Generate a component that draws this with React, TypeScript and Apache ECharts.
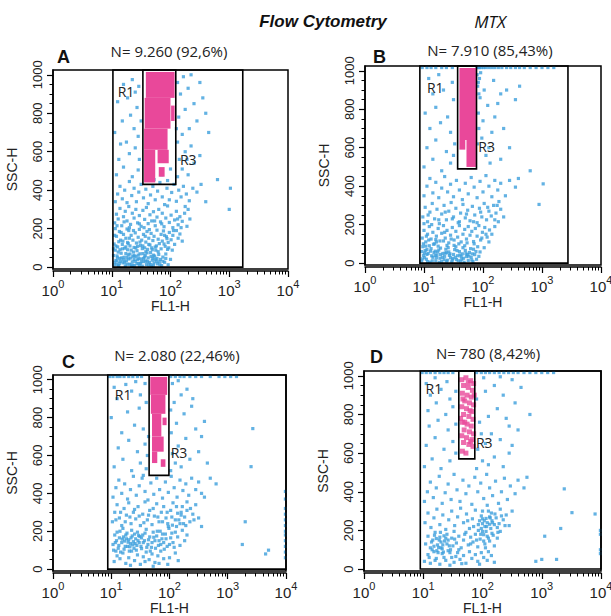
import React, { useEffect, useRef } from "react";
import * as echarts from "echarts";

// ---------- tick values ----------
const decadeTicks = [1, 10, 100, 1000, 10000];
const minorLogTicks = [2, 3, 4, 5, 6, 7, 8, 9, 20, 30, 40, 50, 60, 70, 80, 90, 200, 300, 400, 500, 600, 700, 800, 900, 2000, 3000, 4000, 5000, 6000, 7000, 8000, 9000];
const yMajorTicks = [0, 200, 400, 600, 800, 1000];
const yMinorTicks = [50, 100, 150, 250, 300, 350, 450, 500, 550, 650, 700, 750, 850, 900, 950];

// ---------- headers ----------
const panelLetters = ["A", "B", "C", "D"];
const panelCounts = ["N= 9.260 (92,6%)", "N= 7.910 (85,43%)", "N= 2.080 (22,46%)", "N= 780 (8,42%)"];

// ---------- events: flat pairs [log10(FL1-H), SSC-H] ----------
const blueA = [
  1.04,12, 1.07,35, 1.09,58, 1.12,8, 1.14,44, 1.16,72, 1.19,22, 1.21,51, 1.23,6, 1.25,33, 1.28,64, 1.3,15, 1.32,47, 1.35,27, 1.37,78, 1.39,9, 1.41,55, 1.44,38, 1.46,18, 1.48,69, 1.5,42, 1.52,5, 1.55,29, 1.57,61, 1.59,14, 1.62,48, 1.64,24, 1.66,75, 1.69,36, 1.71,10, 1.73,57, 1.76,30, 1.78,17, 1.8,66, 1.83,40, 1.85,8, 1.87,52, 1.9,25, 1.06,88, 1.18,95, 1.27,90, 1.43,85, 1.61,92, 1.75,88, 1.11,3, 1.34,2, 1.53,70, 1.68,4, 1.92,45, 1.96,12,
  1.05,25, 1.1,48, 1.13,20, 1.2,38, 1.24,70, 1.29,42, 1.33,12, 1.36,56, 1.4,30, 1.45,62, 1.49,20, 1.54,45, 1.58,32, 1.63,10, 1.67,55, 1.72,22, 1.77,45, 1.81,28, 1.03,60, 1.08,15, 1.15,30, 1.26,50, 1.38,40, 1.47,8, 1.6,74, 1.7,46,
  1.03,95, 1.07,110, 1.09,32, 1.11,78, 1.14,90, 1.17,48, 1.19,135, 1.22,25, 1.24,105, 1.26,15, 1.28,122, 1.31,68, 1.33,88, 1.36,8, 1.38,60, 1.41,100, 1.43,18, 1.46,45, 1.48,130, 1.51,28, 1.53,110, 1.56,52, 1.58,80, 1.61,30, 1.63,118, 1.66,14, 1.68,100, 1.71,62, 1.74,40, 1.76,110, 1.79,80, 1.82,12, 1.84,95, 1.87,30, 1.89,120, 1.92,68, 1.94,148, 1.97,100, 2.0,40, 2.03,88,
  1.05,165, 1.09,215, 1.16,180, 1.21,235, 1.3,205, 1.37,190, 1.47,225, 1.55,205, 1.64,195, 1.73,240, 1.85,225, 1.9,165, 2.05,190, 2.12,250, 2.18,205, 2.25,315,
  1.04,120, 1.08,160, 1.1,105, 1.13,185, 1.15,140, 1.18,118, 1.2,170, 1.22,98, 1.24,150, 1.27,128, 1.29,190, 1.31,110, 1.33,165, 1.36,140, 1.38,102, 1.4,178, 1.42,125, 1.45,155, 1.47,196, 1.49,112, 1.51,140, 1.54,170, 1.56,100, 1.58,130, 1.6,185, 1.63,150, 1.65,115, 1.67,175, 1.7,138, 1.72,160, 1.74,104, 1.77,192, 1.79,145, 1.81,122, 1.84,170, 1.86,135, 1.88,188, 1.91,108, 1.93,158, 1.96,128, 1.98,180, 2.01,142, 2.04,165, 2.07,118, 2.1,190, 2.13,150, 2.16,172, 2.2,135, 1.06,200, 1.26,198, 1.52,96, 1.69,90, 1.95,92, 1.12,132, 1.3,150, 1.44,108, 1.57,160,
  1.05,230, 1.08,275, 1.11,250, 1.14,305, 1.17,215, 1.2,262, 1.23,290, 1.26,240, 1.29,315, 1.32,222, 1.35,280, 1.38,255, 1.41,300, 1.44,230, 1.47,268, 1.5,212, 1.53,295, 1.56,248, 1.59,310, 1.62,226, 1.65,272, 1.68,240, 1.71,288, 1.74,215, 1.77,260, 1.8,300, 1.83,235, 1.86,280, 1.89,210, 1.92,255, 1.95,318, 1.98,232, 2.01,270, 2.04,205, 2.07,245, 2.1,290, 2.13,220, 2.16,262, 2.2,238, 2.24,280, 2.28,212, 2.33,250, 2.3,300,
  1.06,340, 1.1,380, 1.14,420, 1.18,355, 1.22,400, 1.26,335, 1.3,445, 1.34,372, 1.38,410, 1.42,340, 1.46,390, 1.5,430, 1.54,360, 1.58,405, 1.62,330, 1.66,375, 1.7,420, 1.74,350, 1.78,395, 1.82,440, 1.86,365, 1.9,325, 1.94,410, 1.98,350, 2.02,388, 2.06,430, 2.1,342, 2.14,400, 2.18,365, 2.22,420, 2.27,380, 2.32,345, 2.38,410, 2.45,390, 2.52,430, 2.8,455, 3.0,300, 3.02,410, 2.6,340,
  1.08,480, 1.2,520, 1.35,470, 1.45,505, 1.12,560, 1.3,590, 1.4,620, 1.47,560, 1.25,650, 1.05,700, 1.38,720, 1.45,680, 1.18,760, 1.32,790, 1.43,830, 1.1,860, 1.27,880, 1.4,910, 1.2,950, 1.35,975, 1.46,940, 1.5,760, 1.15,640,
  2.12,470, 2.2,510, 2.3,480, 2.4,540, 2.15,560, 2.25,600, 2.35,630, 2.5,580, 2.12,650, 2.2,690, 2.32,720, 2.45,760, 2.14,780, 2.25,820, 2.4,850, 2.55,880, 2.17,900, 2.3,930, 2.12,960, 2.22,990, 2.35,1000, 2.5,960, 2.6,800, 2.1,720, 2.28,560, 2.65,700,
  1.72,455, 1.85,480, 1.95,450, 2.0,510,
];

const blueB = [
  0.96,10, 0.99,40, 1.02,65, 1.04,20, 1.07,50, 1.1,5, 1.12,75, 1.15,30, 1.17,55, 1.2,12, 1.22,42, 1.25,68, 1.27,25, 1.3,8, 1.32,50, 1.35,35, 1.37,72, 1.4,15, 1.42,58, 1.45,28, 1.47,6, 1.5,45, 1.52,70, 1.55,18, 1.57,38, 1.6,60, 1.62,10, 1.65,48, 1.67,25, 1.7,66, 1.72,34, 1.75,14, 1.77,55, 1.8,30, 1.83,8, 1.86,44, 1.89,20, 0.98,85, 1.09,90, 1.24,88, 1.39,92, 1.54,85, 1.69,90, 1.84,72, 1.93,35,
  0.97,22, 1.01,52, 1.06,8, 1.13,38, 1.19,62, 1.28,45, 1.34,18, 1.43,40, 1.49,24, 1.58,12, 1.63,34, 1.74,44, 1.81,16, 1.05,70, 1.21,28, 1.38,54,
  0.96,60, 0.99,100, 1.01,28, 1.03,88, 1.05,45, 1.08,120, 1.11,62, 1.14,12, 1.16,98, 1.19,40, 1.21,110, 1.23,58, 1.26,4, 1.28,78, 1.31,30, 1.33,115, 1.36,52, 1.38,10, 1.41,80, 1.44,48, 1.46,125, 1.48,16, 1.51,92, 1.53,30, 1.56,65, 1.59,100, 1.61,42, 1.64,20, 1.66,80, 1.68,4, 1.71,50, 1.73,105, 1.76,36, 1.79,75, 1.82,48, 1.85,100, 1.88,60, 1.91,85, 1.95,58, 1.98,130, 2.02,80, 2.05,150, 2.1,110,
  1.0,205, 1.07,250, 1.13,200, 1.25,225, 1.36,265, 1.48,230, 1.6,215, 1.72,255, 1.84,215, 1.96,265, 2.08,290, 2.2,225, 2.24,300,
  0.97,130, 1.0,170, 1.03,110, 1.06,150, 1.09,190, 1.12,125, 1.15,160, 1.18,100, 1.21,140, 1.24,180, 1.27,115, 1.3,155, 1.33,195, 1.36,130, 1.39,170, 1.42,105, 1.45,145, 1.48,185, 1.51,120, 1.54,165, 1.57,135, 1.6,195, 1.63,110, 1.66,150, 1.69,175, 1.72,125, 1.75,190, 1.78,145, 1.81,165, 1.84,112, 1.87,180, 1.9,140, 1.93,195, 1.96,120, 1.99,160, 2.03,185, 2.07,135, 2.11,172, 2.15,150, 2.2,190, 1.04,140, 1.2,122, 1.35,160,
  0.98,240, 1.02,290, 1.06,215, 1.1,265, 1.14,310, 1.18,230, 1.22,280, 1.26,205, 1.3,255, 1.34,300, 1.38,225, 1.42,270, 1.46,315, 1.5,240, 1.54,285, 1.58,210, 1.62,260, 1.66,305, 1.7,235, 1.74,275, 1.78,220, 1.82,295, 1.86,250, 1.9,210, 1.94,285, 1.98,240, 2.02,310, 2.06,225, 2.1,270, 2.14,245, 2.18,300, 2.22,260, 2.26,215, 2.3,280, 2.35,240, 2.27,320,
  1.0,350, 1.05,400, 1.1,440, 1.15,365, 1.2,420, 1.25,340, 1.3,390, 1.35,450, 1.4,370, 1.45,410, 1.5,345, 1.55,430, 1.6,380, 1.65,330, 1.7,415, 1.75,360, 1.8,445, 1.85,395, 1.9,340, 1.95,425, 2.0,370, 2.05,455, 2.1,400, 2.15,345, 2.2,430, 2.25,380, 2.3,415, 2.38,350, 2.45,430, 2.6,440, 2.8,480, 3.02,412, 2.95,305, 2.55,395,
  1.0,500, 1.15,540, 1.3,480, 1.45,520, 1.05,600, 1.2,640, 1.38,580, 1.5,560, 1.1,700, 1.28,730, 1.45,680, 1.52,620, 1.02,780, 1.2,810, 1.4,760, 1.5,850, 1.15,880, 1.33,900, 1.48,940, 1.08,960, 1.25,980,
  1.91,620, 1.93,700, 1.92,780, 1.95,860, 1.91,920, 1.94,960, 1.96,990, 1.98,650, 2.0,740, 2.02,900, 2.05,560, 2.1,600, 2.15,680, 2.2,760, 2.25,830, 2.3,880, 2.4,900, 2.12,520, 2.3,540, 2.45,600, 2.55,850, 2.62,920, 2.18,950, 2.08,820, 2.35,700, 1.9,980, 1.92,940, 1.93,880,
  0.97,1017, 1.05,1017, 1.12,1017, 1.2,1017, 1.3,1017, 1.38,1017, 1.48,1017, 1.9,1017, 1.92,1017, 1.94,1017, 1.97,1017, 2.01,1017, 2.05,1017, 2.1,1017, 2.15,1017, 2.2,1017, 2.26,1017, 2.32,1017, 2.4,1017, 2.47,1017, 2.55,1017, 2.62,1017, 2.7,1017, 2.8,1017, 2.9,1017, 3.0,1017, 3.1,1017, 3.2,1017,
];

const blueC = [
  1.05,40, 1.1,70, 1.15,55, 1.2,85, 1.25,30, 1.3,60, 1.35,95, 1.4,45, 1.45,75, 1.5,25, 1.55,65, 1.6,90, 1.65,50, 1.7,80, 1.75,35, 1.8,70, 1.85,95, 1.9,55, 1.08,95, 1.33,20, 1.58,40, 1.82,30, 2.0,60, 2.1,85, 1.97,25, 2.15,45, 1.72,15,
  1.04,100, 1.07,140, 1.1,195, 1.13,125, 1.16,90, 1.19,158, 1.22,105, 1.25,180, 1.28,120, 1.31,95, 1.34,165, 1.37,128, 1.4,185, 1.43,100, 1.46,150, 1.49,172, 1.52,108, 1.55,140, 1.58,190, 1.61,115, 1.64,155, 1.67,95, 1.7,140, 1.73,168, 1.76,110, 1.79,200, 1.82,150, 1.85,130, 1.88,185, 1.91,105, 1.94,160, 1.97,240, 2.0,130, 2.04,190, 2.08,115, 2.12,225, 2.16,260, 2.2,285, 2.24,240,
  1.08,260, 1.16,300, 1.24,250, 1.32,275, 1.4,315, 1.48,280, 1.56,245, 1.64,285, 1.72,320, 1.8,275, 1.88,250, 1.96,300, 2.04,275, 2.12,330, 2.2,300, 2.28,230, 2.36,320, 2.42,260,
  1.03,130, 1.06,180, 1.09,150, 1.12,110, 1.15,200, 1.18,140, 1.21,170, 1.24,120, 1.27,190, 1.3,155, 1.33,135, 1.36,175, 1.39,110, 1.42,160, 1.45,195, 1.48,140, 1.51,120, 1.54,180, 1.57,150, 1.6,210, 1.63,130, 1.66,170, 1.69,115, 1.72,195, 1.75,150, 1.78,175, 1.81,125, 1.84,200, 1.87,160, 1.9,140, 1.93,185, 1.96,120, 1.99,215, 2.02,165, 2.06,140, 2.1,195, 2.14,170, 2.18,125, 2.22,205, 2.26,150, 2.3,180, 1.2,215, 1.35,205, 1.44,125, 1.26,160, 1.52,165, 1.38,145, 1.14,165, 1.32,118, 1.47,178, 1.41,135, 1.29,142, 1.23,148,
  1.02,250, 1.06,300, 1.1,340, 1.14,270, 1.18,230, 1.22,320, 1.26,285, 1.3,350, 1.34,240, 1.38,300, 1.42,265, 1.46,330, 1.5,230, 1.54,290, 1.58,355, 1.62,260, 1.66,310, 1.7,235, 1.74,280, 1.78,345, 1.82,250, 1.86,300, 1.9,330, 1.94,270, 1.98,225, 2.02,310, 2.06,350, 2.1,260, 2.14,295, 2.18,240, 2.22,330, 2.26,275, 2.3,310, 2.35,250, 2.4,290, 2.45,340, 2.5,270, 2.3,355, 2.55,225, 2.05,232,
  1.03,380, 1.08,430, 1.13,470, 1.18,400, 1.23,450, 1.28,370, 1.33,420, 1.38,490, 1.43,390, 1.48,440, 1.53,480, 1.58,410, 1.63,365, 1.68,455, 1.73,395, 1.78,480, 1.83,420, 1.88,375, 1.93,460, 1.98,405, 2.03,490, 2.08,430, 2.13,380, 2.18,470, 2.23,415, 2.28,450, 2.33,390, 2.38,480, 2.45,420, 2.5,460, 2.6,380, 2.7,480, 1.55,495, 2.55,400, 2.8,450,
  1.05,540, 1.2,580, 1.35,520, 1.5,560, 1.6,530, 1.12,640, 1.3,680, 1.45,620, 1.58,660, 1.62,600, 1.18,720, 1.4,760, 1.55,740, 1.64,700, 1.0,800, 1.28,830, 1.48,850, 1.6,880, 1.1,900, 1.35,940, 1.5,920, 1.05,960, 1.25,975, 1.58,980, 1.42,990,
  2.02,520, 2.1,560, 2.2,540, 2.35,580, 2.5,620, 2.05,610, 2.15,650, 2.28,690, 2.45,740, 2.6,780, 2.03,720, 2.12,770, 2.25,820, 2.38,860, 2.08,880, 2.2,920, 2.3,950, 2.05,980, 2.15,995, 2.4,900, 2.55,700, 2.02,840, 3.43,742, 3.4,541, 2.65,560,
  0.97,1017, 1.03,1017, 1.1,1017, 1.15,1017, 1.22,1017, 1.3,1017, 1.37,1017, 1.45,1017, 1.52,1017, 2.02,1017, 2.1,1017, 2.18,1017, 2.25,1017, 2.35,1017, 2.45,1017, 2.55,1017, 2.7,1017, 2.85,1017, 2.95,1017, 3.05,1017, 3.15,1017,
  3.3,250, 3.25,130, 3.7,100, 3.65,80,
  3.99,60, 3.99,90, 3.99,120, 3.99,150, 3.99,180, 3.99,200, 3.99,230, 3.99,260, 3.99,290, 3.99,320, 3.99,370, 3.99,410,
];

const blueD = [
  1.02,40, 1.08,75, 1.12,30, 1.18,90, 1.22,55, 1.28,25, 1.32,80, 1.38,45, 1.42,95, 1.48,60, 1.52,35, 1.58,85, 1.62,50, 1.68,70, 1.72,30, 1.78,90, 1.82,55, 1.88,75, 1.92,40, 1.98,85, 2.02,60, 2.08,45, 2.15,70, 2.2,35, 1.45,20, 1.65,28, 1.95,25, 2.1,90,
  1.1,60, 1.15,100, 1.2,45, 1.25,85, 1.3,110, 1.35,60, 1.4,130, 1.45,85, 1.5,120, 1.55,65, 1.6,100, 1.14,140, 1.19,175, 1.23,95, 1.29,190, 1.34,88, 1.38,160, 1.46,100, 1.53,155,
  1.9,150, 1.93,200, 1.95,250, 1.97,180, 2.0,260, 2.02,145, 2.04,220, 2.06,195, 2.08,240, 2.1,160, 2.12,270, 2.14,210, 2.16,250, 2.18,175, 2.2,230, 2.23,265, 2.26,190, 2.0,300, 2.08,330, 2.15,290, 1.85,220, 1.8,130, 1.75,250, 1.7,180, 2.05,110, 2.28,235, 2.32,275, 2.38,225,
  1.04,130, 1.08,170, 1.12,110, 1.16,150, 1.2,190, 1.24,125, 1.28,165, 1.32,105, 1.36,145, 1.4,180, 1.44,120, 1.48,160, 1.52,195, 1.56,135, 1.6,170, 1.64,110, 1.68,150, 1.72,190, 1.76,125, 1.8,165, 1.84,140, 1.88,180, 1.92,115, 1.96,155, 2.0,195, 2.04,130, 2.08,170, 2.12,145, 2.16,185, 2.2,120, 2.25,160, 2.3,195, 1.3,140, 1.22,158, 1.42,150, 1.35,172, 1.26,112, 2.02,178, 1.98,210, 1.18,118, 1.33,125, 1.27,150,
  1.03,240, 1.08,290, 1.13,215, 1.18,265, 1.23,310, 1.28,230, 1.33,280, 1.38,205, 1.43,255, 1.48,300, 1.53,225, 1.58,270, 1.63,315, 1.68,240, 1.73,285, 1.78,210, 1.83,260, 1.88,305, 1.93,230, 1.98,275, 2.03,250, 2.07,220, 2.1,300, 2.13,265, 2.17,240, 2.21,285, 2.25,215, 2.3,310, 2.35,255, 2.4,280, 2.45,225, 2.5,300, 2.0,235, 2.06,262, 2.12,232, 3.05,170, 3.32,210,
  1.02,350, 1.07,400, 1.12,450, 1.17,370, 1.22,420, 1.27,480, 1.32,340, 1.37,395, 1.42,440, 1.47,360, 1.52,490, 1.57,410, 1.62,350, 1.67,460, 1.72,390, 1.77,430, 1.82,335, 1.87,475, 1.92,400, 1.97,445, 2.02,365, 2.07,490, 2.12,420, 2.17,380, 2.22,455, 2.27,340, 2.32,400, 2.37,470, 2.42,360, 2.47,430, 2.55,390, 2.6,460, 2.7,420, 2.75,475, 3.38,415, 3.51,292, 3.9,285,
  1.02,530, 1.15,570, 1.3,520, 1.45,560, 1.55,600, 1.05,640, 1.2,680, 1.35,620, 1.5,660, 1.1,740, 1.25,770, 1.42,720, 1.55,750, 1.08,820, 1.22,860, 1.38,800, 1.5,840, 1.12,900, 1.3,930, 1.45,880, 1.05,960, 1.2,990, 1.4,970, 1.55,920,
  1.9,520, 2.0,560, 2.1,540, 2.2,580, 2.35,530, 2.45,600, 1.92,620, 2.05,650, 2.15,700, 2.3,670, 2.5,640, 2.6,720, 1.95,760, 2.1,790, 2.25,830, 2.4,780, 2.55,860, 1.9,880, 2.05,920, 2.2,950, 2.35,900, 2.5,980, 2.65,940, 2.3,995, 2.8,800, 2.02,990, 1.98,700, 2.45,740,
  0.98,1017, 1.05,1017, 1.12,1017, 1.2,1017, 1.28,1017, 1.35,1017, 1.42,1017, 1.5,1017, 1.9,1017, 1.98,1017, 2.05,1017, 2.12,1017, 2.2,1017, 2.28,1017, 2.36,1017, 2.44,1017, 2.52,1017, 2.6,1017, 2.7,1017, 2.8,1017, 2.9,1017, 3.0,1017, 3.1,1017, 3.2,1017,
  2.9,40, 3.0,50, 3.25,50, 3.99,80, 3.99,100, 3.99,180, 3.99,200,
];

// pink (R3-gated) dense regions: [log10 x0, log10 x1, y0, y1]
const pinkCellsA = [[1.58, 2.07, 880, 1015], [1.56, 2.0, 720, 880], [1.55, 1.95, 610, 720], [1.55, 1.74, 440, 610], [1.78, 1.97, 540, 610], [1.8, 1.9, 470, 520], [2.01, 2.07, 760, 840]];
const pinkCellsB = [[1.6, 1.88, 640, 1015], [1.72, 1.88, 500, 640], [1.6, 1.7, 590, 640]];
const pinkCellsC = [[1.67, 1.96, 920, 1015], [1.68, 1.93, 820, 920], [1.7, 1.86, 700, 820], [1.88, 1.95, 760, 800], [1.7, 1.9, 620, 700], [1.7, 1.79, 560, 620], [1.85, 1.93, 540, 580]];
const pinkCellsD: number[][] = [];
const pinkDotsD = [
  1.65,980, 1.72,990, 1.8,975, 1.85,960, 1.68,950, 1.76,940, 1.83,925, 1.66,910, 1.74,900, 1.81,890, 1.7,870, 1.78,860, 1.85,850, 1.65,840, 1.73,830, 1.82,815, 1.68,800, 1.77,790, 1.84,775, 1.66,760, 1.74,750, 1.81,740, 1.69,720, 1.78,710, 1.85,700, 1.65,690, 1.73,680, 1.82,670, 1.68,655, 1.77,645, 1.84,635, 1.66,610, 1.72,600, 1.8,660, 1.7,760, 1.79,820, 1.67,880, 1.76,965, 1.63,780, 1.86,900,
];

// gates: [log10 x0, log10 x1, y0, y1]
const gatesA = [[1.02, 3.23, 0, 1025], [1.53, 2.09, 430, 1025]];
const gatesB = [[0.93, 3.44, 0, 1025], [1.57, 1.89, 490, 1025]];
const gatesC = [[0.94, 4.0, 0, 1025], [1.65, 1.99, 495, 1025]];
const gatesD = [[0.95, 4.0, 0, 1025], [1.6, 1.87, 570, 1025]];

// gate label anchors: [log10 x, y]
const gateLabelText = ["R1", "R3"];
const gateLabelsA = [[1.1, 915], [2.16, 560]];
const gateLabelsB = [[1.05, 911], [1.92, 604]];
const gateLabelsC = [[1.06, 920], [2.02, 615]];
const gateLabelsD = [[1.04, 933], [1.89, 653]];

// ---------- layout ----------
const grids = [
  { left: 53, top: 70, width: 235, height: 199 },
  { left: 365, top: 66, width: 236, height: 199 },
  { left: 53, top: 375, width: 233, height: 196 },
  { left: 364, top: 371, width: 237, height: 200 },
];
const letterPos = [[57, 57], [373, 57], [62, 362], [370, 357]];
const countPos = [[169, 51], [490, 50], [177, 355], [488, 353]];

const BLUE = "#3c9fdc";
const PINK = "#e9489a";
const SANS = "'Liberation Sans', Arial, sans-serif";
const OPEN = "'Open Sans', 'Noto Sans', sans-serif";

const pairs = (flat: number[]) => {
  const out: number[][] = [];
  for (let i = 0; i + 1 < flat.length; i += 2) out.push([Math.pow(10, flat[i]), flat[i + 1]]);
  return out;
};
const cells = (arr: number[][]) => arr.map((c) => [Math.pow(10, c[0]), Math.pow(10, c[1]), c[2], c[3]]);
const pts = (arr: number[][]) => arr.map((c) => [Math.pow(10, c[0]), c[1]]);

export default function App() {
  const ref = useRef<HTMLDivElement>(null);
  useEffect(() => {
    if (!ref.current) return;
    const chart = echarts.init(ref.current, null, { renderer: "svg" });

    const blues = [blueA, blueB, blueC, blueD];
    const pinkCells = [pinkCellsA, pinkCellsB, pinkCellsC, pinkCellsD];
    const gates = [gatesA, gatesB, gatesC, gatesD];
    const gLabels = [gateLabelsA, gateLabelsB, gateLabelsC, gateLabelsD];

    const xAxis: any[] = [];
    const yAxis: any[] = [];
    const series: any[] = [];
    const grid: any[] = [];

    grids.forEach((g, i) => {
      grid.push({ ...g, show: true, borderColor: "#000", borderWidth: 1.5, backgroundColor: "transparent", outerBoundsMode: "none", containLabel: false });
      xAxis.push({
        type: "log", logBase: 10, min: 1, max: 10000, gridIndex: i, position: "bottom", offset: 2,
        axisLine: { show: true, onZero: false, lineStyle: { color: "#000", width: 1.5 } },
        axisTick: { show: true, length: 6, customValues: decadeTicks, lineStyle: { color: "#000", width: 1.2 } },
        axisLabel: {
          customValues: decadeTicks, margin: 7, color: "#222",
          formatter: (v: number) => "{b|10}{s|" + Math.round(Math.log10(v)) + "}",
          rich: {
            b: { fontSize: 15, fontFamily: SANS, color: "#222", verticalAlign: "bottom", lineHeight: 20 },
            s: { fontSize: 11, fontFamily: SANS, color: "#222", verticalAlign: "top", lineHeight: 20 },
          },
        },
        splitLine: { show: false },
        name: "FL1-H", nameLocation: "middle", nameGap: 26,
        nameTextStyle: { fontSize: 14, fontFamily: SANS, color: "#222" },
      });
      xAxis.push({
        type: "log", logBase: 10, min: 1, max: 10000, gridIndex: i, position: "bottom", offset: 2,
        axisLine: { show: false, onZero: false },
        axisTick: { show: true, length: 3.5, customValues: minorLogTicks, lineStyle: { color: "#000", width: 1 } },
        axisLabel: { show: false }, splitLine: { show: false },
      });
      yAxis.push({
        type: "value", min: -10, max: 1025, gridIndex: i, position: "left",
        axisLine: { show: true, onZero: false, lineStyle: { color: "#000", width: 1.5 } },
        axisTick: { show: true, length: 6, customValues: yMajorTicks, lineStyle: { color: "#000", width: 1.2 } },
        axisLabel: { customValues: yMajorTicks, formatter: (v: number) => String(v), rotate: 90, margin: 9, fontSize: 13, fontFamily: SANS, color: "#222" },
        splitLine: { show: false },
        name: "SSC-H", nameLocation: "middle", nameGap: 34,
        nameTextStyle: { fontSize: 14, fontFamily: SANS, color: "#222" },
      });
      yAxis.push({
        type: "value", min: -10, max: 1025, gridIndex: i, position: "left",
        axisLine: { show: false, onZero: false },
        axisTick: { show: true, length: 3.5, customValues: yMinorTicks, lineStyle: { color: "#000", width: 1 } },
        axisLabel: { show: false }, splitLine: { show: false },
      });

      const xi = 2 * i;
      const yi = 2 * i;
      series.push({
        type: "scatter", xAxisIndex: xi, yAxisIndex: yi, data: pairs(blues[i]),
        symbol: "rect", symbolSize: 3.2, itemStyle: { color: BLUE }, z: 2, silent: true,
      });
      series.push({
        type: "custom", xAxisIndex: xi, yAxisIndex: yi, data: cells(pinkCells[i]), z: 3, silent: true,
        encode: { x: [0, 1], y: [2, 3] },
        renderItem: (_p: any, api: any) => {
          const a = api.coord([api.value(0), api.value(3)]);
          const b = api.coord([api.value(1), api.value(2)]);
          return { type: "rect", shape: { x: a[0], y: a[1], width: b[0] - a[0], height: b[1] - a[1] }, style: { fill: PINK } };
        },
      });
      if (i === 3) {
        series.push({
          type: "scatter", xAxisIndex: xi, yAxisIndex: yi, data: pairs(pinkDotsD),
          symbol: "rect", symbolSize: 5, itemStyle: { color: PINK }, z: 3, silent: true,
        });
      }
      series.push({
        type: "custom", xAxisIndex: xi, yAxisIndex: yi, data: cells(gates[i]), z: 5, silent: true, clip: false,
        encode: { x: [0, 1], y: [2, 3] },
        renderItem: (_p: any, api: any) => {
          const a = api.coord([api.value(0), api.value(3)]);
          const b = api.coord([api.value(1), api.value(2)]);
          return { type: "rect", shape: { x: a[0], y: a[1], width: b[0] - a[0], height: b[1] - a[1] }, style: { fill: "none", stroke: "#000", lineWidth: 1.6 } };
        },
      });
      series.push({
        type: "custom", xAxisIndex: xi, yAxisIndex: yi, data: pts(gLabels[i]), z: 6, silent: true, clip: false,
        renderItem: (p: any, api: any) => {
          const a = api.coord([api.value(0), api.value(1)]);
          return {
            type: "text", x: a[0], y: a[1],
            style: { text: gateLabelText[p.dataIndex], fill: "#222", font: "14px " + OPEN, align: "left", verticalAlign: "middle", textAlign: "left", textVerticalAlign: "middle" },
          };
        },
      });
    });

    const graphic: any[] = [
      { type: "text", x: 323, y: 21, style: { text: "Flow Cytometry", font: "italic bold 17px " + SANS, fill: "#111", align: "center", verticalAlign: "middle", textAlign: "center", textVerticalAlign: "middle" } },
      { type: "text", x: 490, y: 21, style: { text: "MTX", font: "italic 17px " + OPEN, fill: "#111", align: "center", verticalAlign: "middle", textAlign: "center", textVerticalAlign: "middle" } },
    ];
    panelLetters.forEach((t, i) => {
      graphic.push({ type: "text", x: letterPos[i][0], y: letterPos[i][1], style: { text: t, font: "bold 18px " + SANS, fill: "#111", align: "left", verticalAlign: "middle", textAlign: "left", textVerticalAlign: "middle" } });
      graphic.push({ type: "text", x: countPos[i][0], y: countPos[i][1], style: { text: panelCounts[i], font: "15px " + OPEN, fill: "#222", align: "center", verticalAlign: "middle", textAlign: "center", textVerticalAlign: "middle" } });
    });

    chart.setOption({ animation: false, backgroundColor: "#fff", grid, xAxis, yAxis, series, graphic });
    return () => chart.dispose();
  }, []);
  return <div ref={ref} style={{ position: "absolute", left: 0, top: 0, width: 611, height: 616 }} />;
}
